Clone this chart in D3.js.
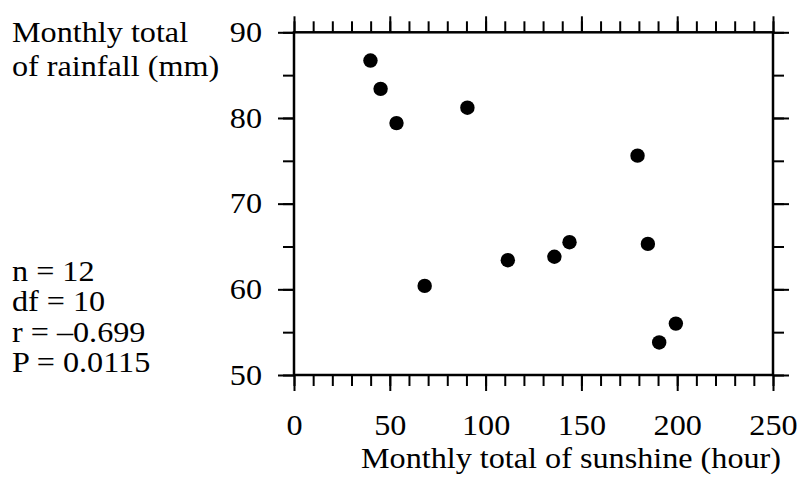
<!DOCTYPE html>
<meta charset="utf-8">
<style>
body { margin: 0; background: #fff; }
svg text { font-family: "Liberation Serif", "Times New Roman", serif; font-size: 29px; fill: #000; }
.tick line { stroke: #000; stroke-width: 2; }
</style>
<body>
<script src="https://d3js.org/d3.v7.min.js"></script>
<script>

// sunshine (hour) vs rainfall (mm), one dot per month
const sunshine = [39.9, 45.2, 53.5, 90.5, 68.2, 111.6, 135.9, 143.8, 179.3, 184.7, 199.3, 190.6];
const rainfall = [86.7, 83.4, 79.4, 81.2, 60.4, 63.4, 63.8, 65.5, 75.6, 65.3, 56.0, 53.8];

const xMajor = [0, 50, 100, 150, 200, 250];
const yMajor = [50, 60, 70, 80, 90];
const statsLines = ["n = 12", "df = 10", "r = \u20130.699", "P = 0.0115"];
const yTitle = ["Monthly total", "of rainfall (mm)"];
const xTitle = "Monthly total of sunshine (hour)";

var margin = {top: 32.3, left: 294},
    width = 479,
    height = 342.7;

var stretch = 1.11;

var svg = d3.select("body").append("svg")
    .attr("width", 801)
    .attr("height", 481);

var g = svg.append("g")
    .attr("transform", "translate(" + margin.left + "," + margin.top + ")");

var x = d3.scaleLinear().domain([0, 250]).range([0, width]);
var y = d3.scaleLinear().domain([50, 90]).range([height, 0]);

var xMinor = d3.range(0, 251, 10);
var yMinor = d3.range(50, 91, 5);

function addAxis(axis, cls) {
  var a = g.append("g").attr("class", cls).call(axis);
  a.select(".domain").remove();
  return a;
}

// minor ticks, all four sides
addAxis(d3.axisBottom(x).tickValues(xMinor).tickSize(11).tickFormat(""), "x minor")
  .attr("transform", "translate(0," + height + ")");
addAxis(d3.axisTop(x).tickValues(xMinor).tickSize(11).tickFormat(""), "x minor");
addAxis(d3.axisLeft(y).tickValues(yMinor).tickSize(11).tickFormat(""), "y minor");
addAxis(d3.axisRight(y).tickValues(yMinor).tickSize(11).tickFormat(""), "y minor")
  .attr("transform", "translate(" + width + ",0)");

// major ticks
addAxis(d3.axisBottom(x).tickValues(xMajor).tickSize(16).tickPadding(23).tickFormat(d3.format("d")), "x major")
  .attr("transform", "translate(0," + height + ")");
addAxis(d3.axisTop(x).tickValues(xMajor).tickSize(16).tickFormat(""), "x major");
addAxis(d3.axisLeft(y).tickValues(yMajor).tickSize(16).tickPadding(16).tickFormat(d3.format("d")), "y major");
addAxis(d3.axisRight(y).tickValues(yMajor).tickSize(16).tickFormat(""), "y major")
  .attr("transform", "translate(" + width + ",0)");

g.selectAll(".tick text").style("font-size", "29px");

// frame
g.append("rect")
    .attr("width", width)
    .attr("height", height)
    .attr("fill", "none")
    .attr("stroke", "#000")
    .attr("stroke-width", 2.5);

g.selectAll(".dot")
    .data(sunshine)
  .enter().append("circle")
    .attr("class", "dot")
    .attr("cx", function(d) { return x(d); })
    .attr("cy", function(d, i) { return y(rainfall[i]); })
    .attr("r", 7.2)
    .attr("fill", "#000");

svg.selectAll(".ytitle")
    .data(yTitle)
  .enter().append("text")
    .attr("class", "ytitle")
    .attr("x", 12)
    .attr("y", function(d, i) { return 42 + i * 34; })
    .text(function(d) { return d; });

svg.selectAll(".stats")
    .data(statsLines)
  .enter().append("text")
    .attr("class", "stats")
    .attr("x", 12)
    .attr("y", function(d, i) { return 281 + i * 30.5; })
    .text(function(d) { return d; });

svg.append("text")
    .attr("x", 571)
    .attr("y", 468)
    .style("text-anchor", "middle")
    .text(xTitle);

// the source picture is a bit wider than tall, stretch text horizontally
svg.selectAll("text").each(function() {
  var t = d3.select(this);
  var tx = +t.attr("x") || 0;
  t.attr("transform", "translate(" + (tx * (1 - stretch)) + ",0) scale(" + stretch + ",1)");
});

</script>
</body>
